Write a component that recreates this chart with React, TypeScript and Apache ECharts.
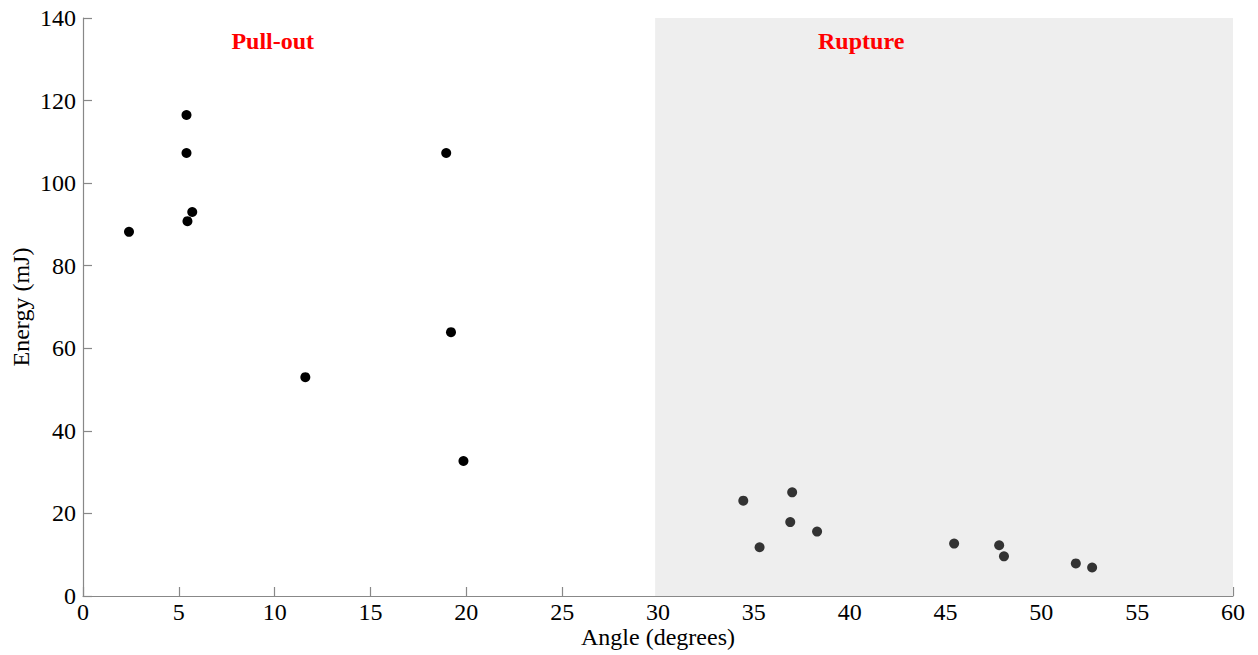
import React, { useEffect, useRef } from "react";
import * as echarts from "echarts";

const pullOutAngle = [2.4, 5.4, 5.4, 5.7, 5.45, 11.6, 18.95, 19.2, 19.85];
const pullOutEnergy = [88.2, 116.5, 107.3, 93.0, 90.8, 53.0, 107.3, 63.9, 32.7];

const ruptureAngle = [34.45, 35.3, 37.0, 36.9, 38.3, 45.45, 47.8, 48.05, 51.8, 52.65];
const ruptureEnergy = [23.1, 11.8, 25.1, 17.9, 15.6, 12.7, 12.3, 9.6, 7.9, 6.9];

const regionLabels = ["Pull-out", "Rupture"];
const regionLabelX = [9.9, 40.6];
const regionLabelY = [134.5, 134.5];
const ruptureRange = [29.85, 60];

const xTicks = { min: 0, max: 60, interval: 5 };
const yTicks = { min: 0, max: 140, interval: 20 };

const FONT = "'Liberation Serif', 'Times New Roman', serif";

export default function App() {
  const ref = useRef<HTMLDivElement>(null);
  useEffect(() => {
    if (!ref.current) return;
    const chart = echarts.init(ref.current, undefined, { renderer: "svg" });
    const axisCommon = {
      axisLine: { show: true, lineStyle: { color: "#888", width: 1.2 } },
      axisTick: { show: true, inside: true, length: 9, lineStyle: { color: "#888", width: 1.2 } },
      splitLine: { show: false },
      axisLabel: { color: "#000", fontFamily: FONT, fontSize: 24 },
      nameTextStyle: { color: "#000", fontFamily: FONT, fontSize: 24 },
      nameLocation: "middle" as const,
      nameMoveOverlap: false,
    };
    chart.setOption({
      animation: false,
      backgroundColor: "#fff",
      grid: {
        left: 83,
        right: 25,
        top: 18,
        bottom: 59,
        containLabel: false,
        outerBoundsMode: "none",
      },
      xAxis: {
        type: "value",
        ...xTicks,
        name: "Angle (degrees)",
        nameGap: 29,
        ...axisCommon,
        axisLabel: { ...axisCommon.axisLabel, margin: 4 },
      },
      yAxis: {
        type: "value",
        ...yTicks,
        name: "Energy (mJ)",
        nameGap: 50,
        ...axisCommon,
        axisLabel: { ...axisCommon.axisLabel, margin: 7 },
      },
      series: [
        {
          type: "scatter",
          data: [],
          silent: true,
          markArea: {
            silent: true,
            itemStyle: { color: "#eeeeee", opacity: 1 },
            data: [[{ xAxis: ruptureRange[0] }, { xAxis: ruptureRange[1] }]],
          },
          z: 1,
        },
        {
          type: "scatter",
          data: pullOutAngle.map((x, i) => [x, pullOutEnergy[i]]),
          symbol: "circle",
          symbolSize: 10,
          itemStyle: { color: "#000", opacity: 1 },
          z: 3,
        },
        {
          type: "scatter",
          data: ruptureAngle.map((x, i) => [x, ruptureEnergy[i]]),
          symbol: "circle",
          symbolSize: 10,
          itemStyle: { color: "#333", opacity: 1 },
          z: 3,
        },
        {
          type: "scatter",
          data: regionLabels.map((n, i) => ({ value: [regionLabelX[i], regionLabelY[i]], name: n })),
          symbolSize: 0,
          itemStyle: { color: "transparent", opacity: 1 },
          label: {
            show: true,
            position: "inside",
            formatter: (p: any) => p.name,
            color: "#ff0000",
            opacity: 1,
            fontFamily: FONT,
            fontWeight: "bold",
            fontSize: 24,
          },
          z: 4,
        },
      ],
    });
    return () => chart.dispose();
  }, []);
  return (
    <div
      ref={ref}
      style={{ position: "absolute", left: 0, top: 0, width: 1258, height: 655 }}
    />
  );
}
